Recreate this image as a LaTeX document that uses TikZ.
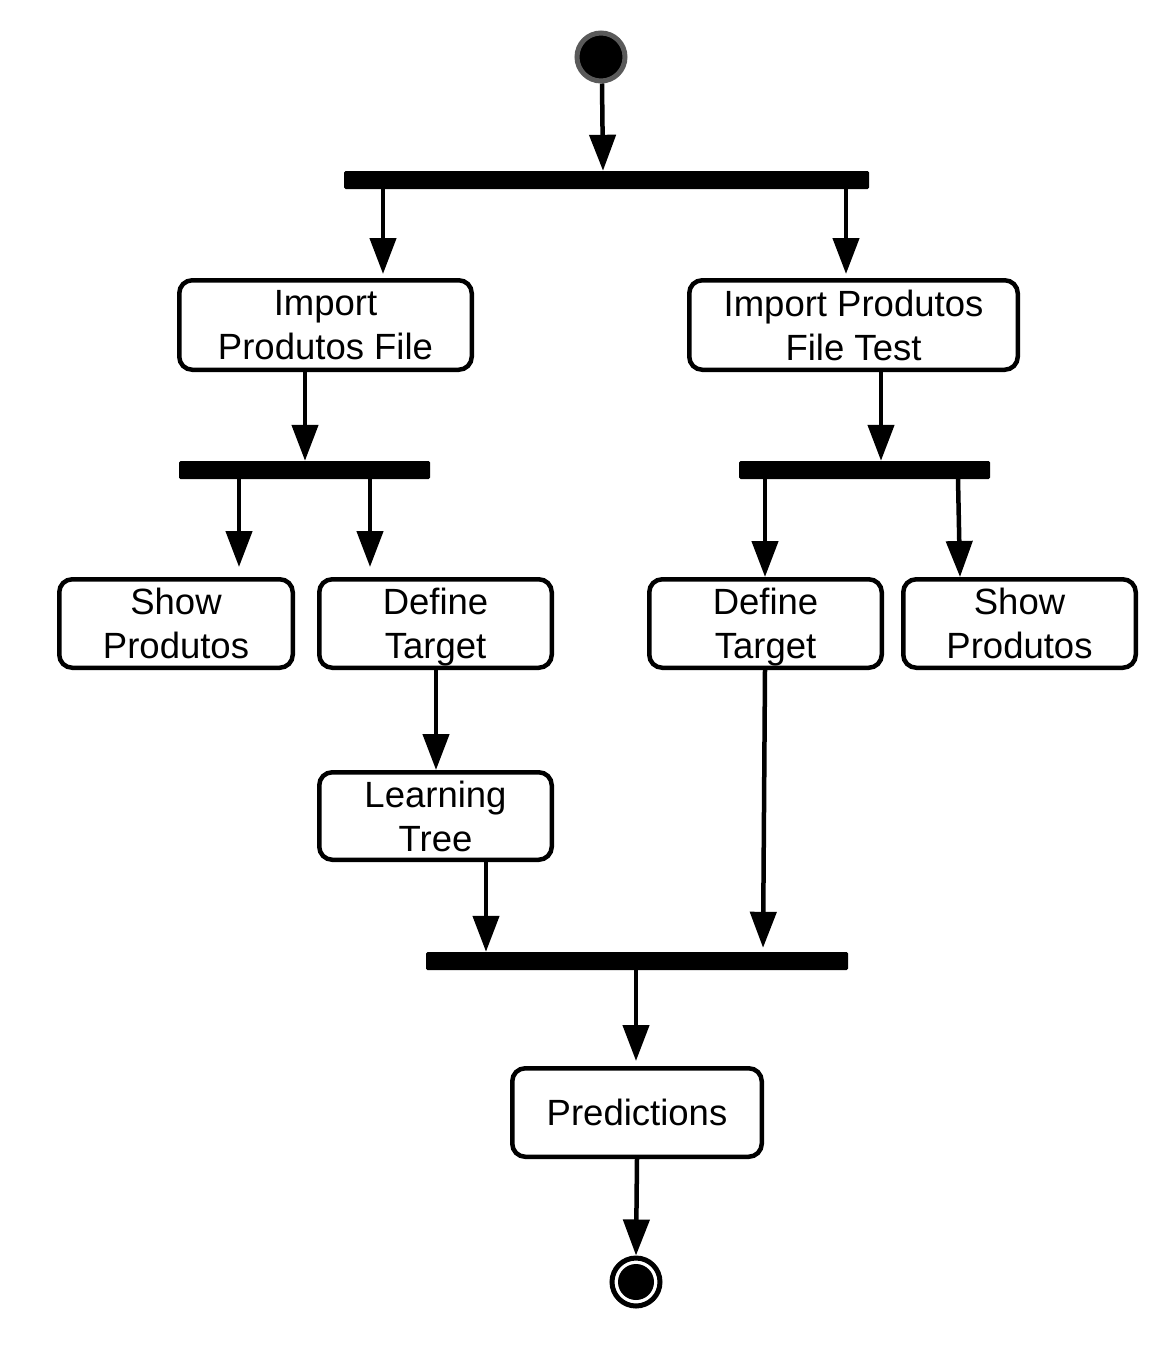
\documentclass[tikz,border=0pt]{standalone}
\usepackage{fontspec}
\setmainfont{Liberation Sans}
\usetikzlibrary{arrows.meta}
\definecolor{startgray}{HTML}{5A5A5A}
\begin{document}
\begin{tikzpicture}[x=1pt,y=-1pt,
  act/.style={draw,line width=4.5pt,rounded corners=13pt,inner sep=0pt,align=center,
    font=\fontsize{36.5}{44}\selectfont},
  bar/.style={fill=black,inner sep=0pt,minimum height=18pt,rounded corners=1.5pt},
  arr/.style={line width=4.5pt,-{Triangle[length=36pt,width=26pt]}}]
\useasboundingbox (0,0) rectangle (1162,1362);

% start / end
\node[circle,draw=startgray,fill=black,line width=5pt,inner sep=0pt,minimum size=48pt] (start) at (601,57) {};
\node[circle,draw=black,line width=5pt,inner sep=0pt,minimum size=48pt] (end) at (636,1282) {};
\node[circle,fill=black,inner sep=0pt,minimum size=36pt] (endin) at (end) {};

% bars
\node[bar,minimum width=525pt] (bar1) at (606.5,180) {};
\node[bar,minimum width=251pt] (bar2) at (304.5,470) {};
\node[bar,minimum width=251pt] (bar3) at (864.5,470) {};
\node[bar,minimum width=422pt] (bar4) at (637,961) {};

% activities
\node[act,minimum width=292.5pt,minimum height=89.5pt] (ipf) at (325.5,325) {Import\\Produtos File};
\node[act,minimum width=328.5pt,minimum height=89.5pt] (ipft) at (853.5,325) {Import Produtos\\File Test};
\node[act,minimum width=233.5pt,minimum height=88.5pt] (sp1) at (176,623.5) {Show\\Produtos};
\node[act,minimum width=232.5pt,minimum height=88.5pt] (dt1) at (435.5,623.5) {Define\\\smash{Target}};
\node[act,minimum width=232.5pt,minimum height=88.5pt] (dt2) at (765.5,623.5) {Define\\\smash{Target}};
\node[act,minimum width=232.5pt,minimum height=88.5pt] (sp2) at (1019.5,623.5) {Show\\Produtos};
\node[act,minimum width=232.5pt,minimum height=87.5pt] (lt) at (435.5,816) {Learning\\Tree};
\node[act,minimum width=249.5pt,minimum height=88.5pt] (pred) at (637,1112.5) {Predictions};

% connectors
\draw[arr] ([xshift=1pt]start.south) -- ([xshift=-3.5pt]bar1.north);
\draw[arr,shorten >=4pt] ([xshift=-223.5pt]bar1.south) -- ([xshift=57.5pt]ipf.north);
\draw[arr,shorten >=4pt] ([xshift=239.5pt]bar1.south) -- ([xshift=-7.5pt]ipft.north);
\draw[arr] ([xshift=-20.5pt]ipf.south) -- ([xshift=0.5pt]bar2.north);
\draw[arr] ([xshift=27.5pt]ipft.south) -- ([xshift=16.5pt]bar3.north);
\draw[arr,shorten >=10pt] ([xshift=-65.5pt]bar2.south) -- ([xshift=63pt]sp1.north);
\draw[arr,shorten >=10pt] ([xshift=65.5pt]bar2.south) -- ([xshift=-65.5pt]dt1.north);
\draw[arr] ([xshift=-99.5pt]bar3.south) -- ([xshift=-0.5pt]dt2.north);
\draw[arr] ([xshift=93.5pt]bar3.south) -- ([xshift=-59.5pt]sp2.north);
\draw[arr] ([xshift=0.5pt]dt1.south) -- ([xshift=0.5pt]lt.north);
\draw[arr] ([xshift=50.5pt]lt.south) -- ([xshift=-151pt]bar4.north);
\draw[arr,shorten >=4pt] ([xshift=-0.5pt]dt2.south) -- ([xshift=126pt]bar4.north);
\draw[arr,shorten >=5pt] ([xshift=-1pt]bar4.south) -- ([xshift=-1pt]pred.north);
\draw[arr] ([xshift=0pt]pred.south) -- (end.north);
\end{tikzpicture}
\end{document}
